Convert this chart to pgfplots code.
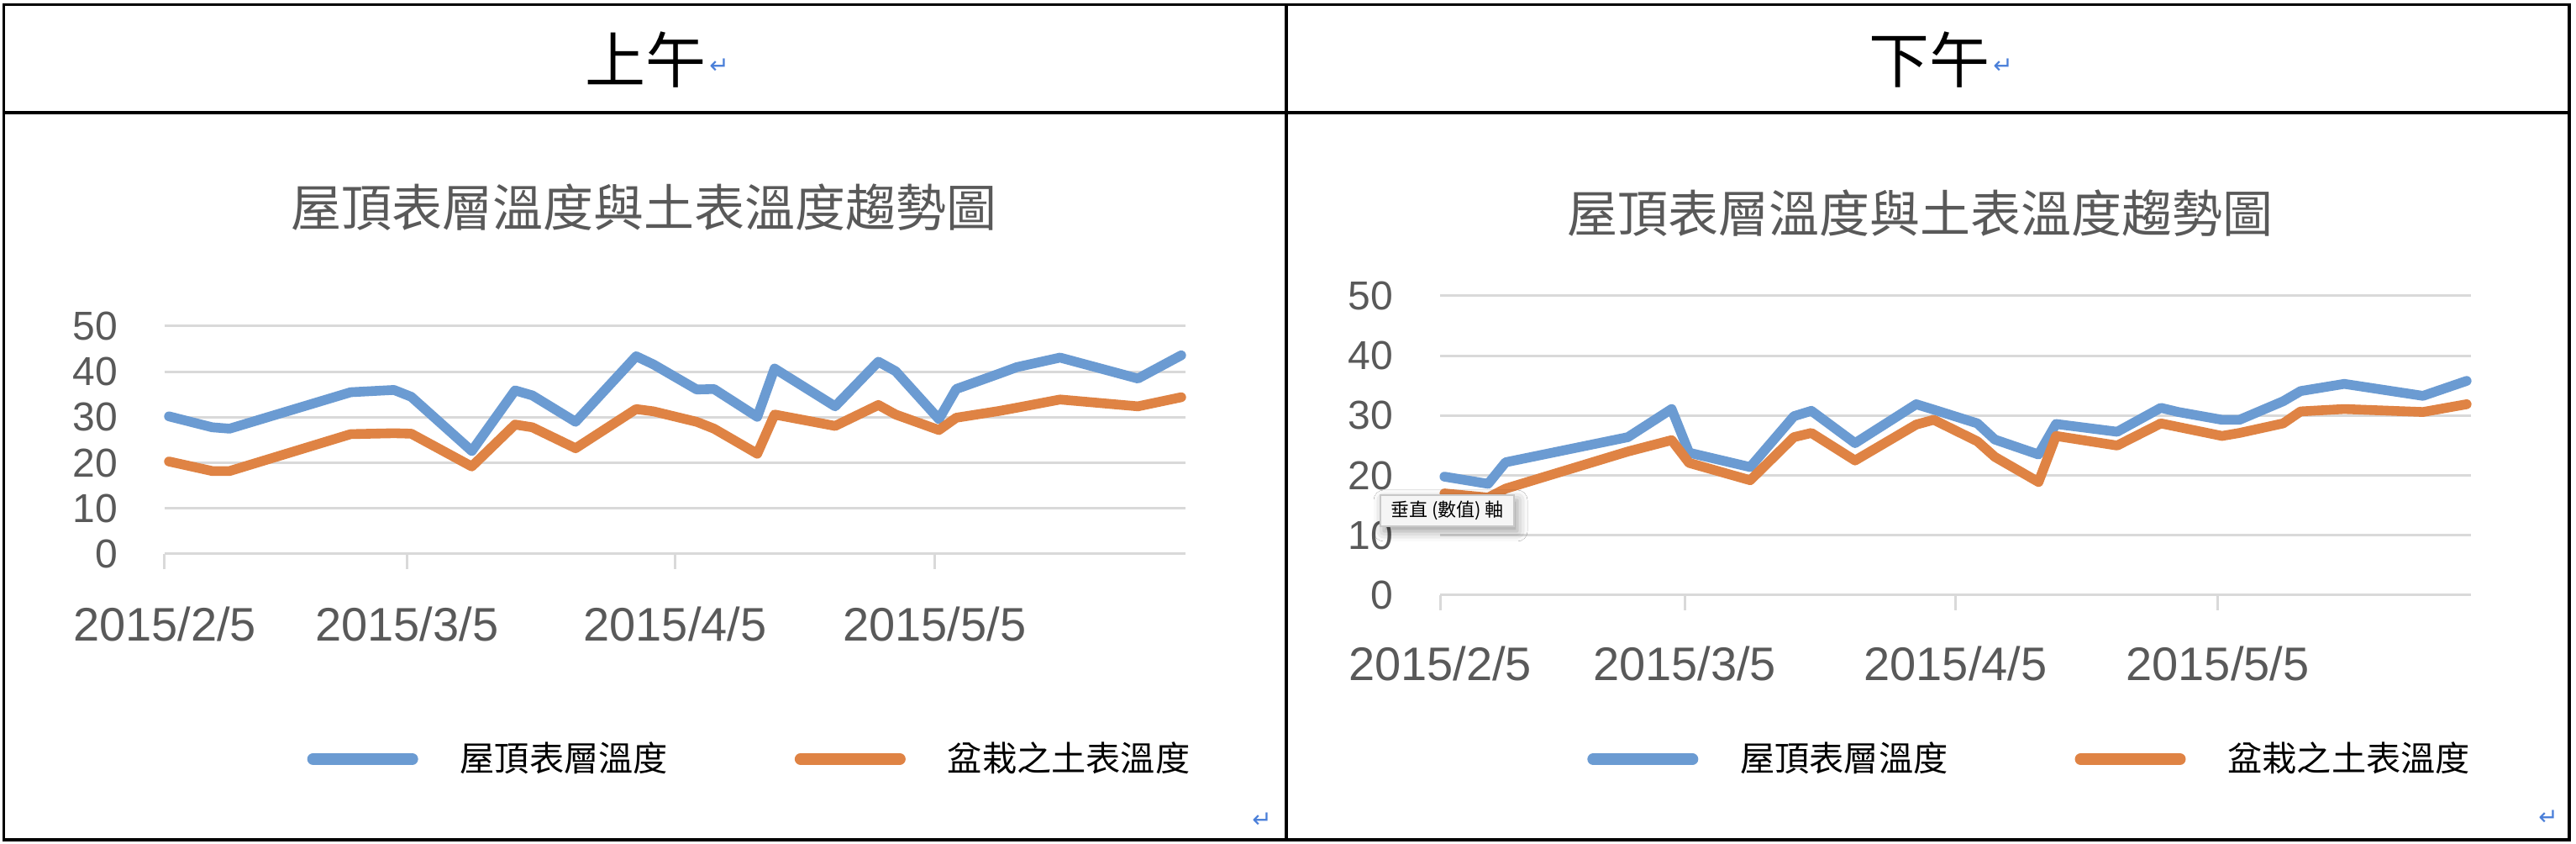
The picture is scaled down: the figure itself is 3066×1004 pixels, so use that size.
\documentclass[border=0pt]{standalone}
\usepackage{pgfplots}
\usepackage{pgfplotstable}
\pgfplotsset{compat=1.18}
\usepackage{fontspec}
\setmainfont{Liberation Sans}
\newfontfamily\cjk{Noto Sans CJK TC}
\newfontfamily\dejavu{DejaVu Sans}
\usetikzlibrary{shadows.blur}
\definecolor{sblue}{HTML}{6B9BD2}
\definecolor{sorange}{HTML}{DF8344}
\definecolor{gridc}{HTML}{D9D9D9}
\definecolor{labc}{HTML}{595959}
\definecolor{retc}{HTML}{4A7FD9}

\pgfplotstableread{
x blue orange
0.5 30.2 20.3
5.5 27.8 18.2
7.5 27.5 18.2
21.5 35.5 26.3
26.5 36.0 26.5
28.5 34.5 26.4
35.5 22.6 19.2
40.5 35.9 28.4
42.5 34.8 27.8
47.5 29.0 23.2
54.5 43.4 31.8
56.5 41.6 31.3
61.5 36.1 29.0
63.5 36.2 27.5
68.5 30.1 22.0
70.5 40.7 30.6
77.5 32.4 28.1
82.5 42.2 32.7
84.5 40.1 30.6
89.5 29.6 27.2
91.5 36.2 29.9
96.5 39.6 31.4
98.5 41.0 32.1
103.5 43.1 33.9
112.5 38.5 32.4
117.5 43.6 34.4
}\amdata

\pgfplotstableread{
x blue orange
0.5 19.8 17.0
5.5 18.6 16.3
7.5 22.2 17.8
21.5 26.4 24.0
26.5 31.1 25.9
28.5 23.8 22.1
35.5 21.4 19.2
40.5 29.9 26.4
42.5 30.8 27.1
47.5 25.4 22.5
54.5 31.9 28.5
56.5 31.0 29.3
61.5 28.7 25.7
63.5 26.0 23.1
68.5 23.5 18.9
70.5 28.6 26.6
77.5 27.3 25.0
82.5 31.3 28.7
84.5 30.6 28.1
89.5 29.3 26.6
91.5 29.3 27.1
96.5 32.4 28.7
98.5 34.1 30.7
103.5 35.3 31.1
112.5 33.3 30.6
117.5 35.8 31.9
}\pmdata

\pgfplotsset{
  chartstyle/.style={
    scale only axis,
    clip=false,
    xmin=0, xmax=118, ymin=0, ymax=50,
    xtick={0,28,59,89},
    xticklabels={2015/2/5,2015/3/5,2015/4/5,2015/5/5},
    ytick={0,10,20,30,40,50},
    /pgf/number format/assume math mode=true,
    axis line style={draw=none},
    ymajorgrids,
    major grid style={draw=gridc, line width=0.75pt},
    xtick pos=bottom, ytick pos=left,
    tick align=outside,
    major tick length=4.5pt,
    x tick style={draw=gridc, line width=0.75pt},
    y tick style={draw=none},
    xticklabel style={font=\fontsize{14pt}{14pt}\selectfont, text=labc, anchor=base, inner sep=0pt, yshift=-21.5pt},
    yticklabel style={font=\fontsize{12pt}{12pt}\selectfont, text=labc, anchor=east, inner sep=0pt, xshift=-9.25pt},
    legend columns=2,
    legend style={draw=none, fill=none, font=\cjk\fontsize{10.3pt}{10.3pt}\selectfont, text=black,
      nodes={inner sep=0pt}, anchor=center,
      /tikz/every odd column/.append style={column sep=12.5pt},
      /tikz/every even column/.append style={column sep=37.75pt}},
    legend image code/.code={\draw[##1, line width=3.5pt, line cap=round] (0pt,0pt) -- (29.5pt,0pt);},
  },
  blueline/.style={sblue, line width=2.9pt, line join=round, line cap=round},
  orangeline/.style={sorange, line width=2.9pt, line join=round, line cap=round},
}

\begin{document}
\begin{tikzpicture}[x=0.25pt,y=0.25pt]
\useasboundingbox (0,0) rectangle (3066,1004);
\fill[white] (0,0) rectangle (3066,1004);

% left chart (morning)
\begin{axis}[chartstyle, at={(49pt,86.25pt)}, anchor=south west,
  width=303.75pt, height=67.75pt,
  legend style={at={(0.572,-0.900)}}]
\addplot[blueline] table[x=x,y=blue]{\amdata};
\addlegendentry{屋頂表層溫度}
\addplot[orangeline] table[x=x,y=orange]{\amdata};
\addlegendentry{盆栽之土表溫度}
\end{axis}

% right chart (afternoon)
\begin{axis}[chartstyle, at={(428.5pt,74pt)}, anchor=south west,
  width=306.75pt, height=89pt,
  xticklabel style={yshift=0.5pt},
  legend style={at={(0.571,-0.548)}}]
\addplot[blueline] table[x=x,y=blue]{\pmdata};
\addlegendentry{屋頂表層溫度}
\addplot[orangeline] table[x=x,y=orange]{\pmdata};
\addlegendentry{盆栽之土表溫度}
\end{axis}

% titles
\node[font=\cjk\fontsize{15pt}{15pt}\selectfont, text=labc] at (766,757) {屋頂表層溫度與土表溫度趨勢圖};
\node[font=\cjk\fontsize{15pt}{15pt}\selectfont, text=labc] at (2285,750) {屋頂表層溫度與土表溫度趨勢圖};

% table borders
\draw[line width=0.8pt] (4.5,998.5) rectangle (3058,5);
\draw[line width=0.8pt] (4.5,870) -- (3058,870);
\draw[line width=0.8pt] (1531,998.5) -- (1531,5);

% header texts
\node[font=\cjk\fontsize{18pt}{18pt}\selectfont] at (768,932.5) {上午};
\node[font=\cjk\fontsize{18pt}{18pt}\selectfont] at (2296,932.5) {下午};
\node[font=\dejavu\fontsize{7pt}{7pt}\selectfont, text=retc, inner sep=0pt] at (856,925.5) {↵};
\node[font=\dejavu\fontsize{7pt}{7pt}\selectfont, text=retc, inner sep=0pt] at (2384,925.5) {↵};
\node[font=\dejavu\fontsize{7pt}{7pt}\selectfont, text=retc, inner sep=0pt] at (1502,28) {↵};
\node[font=\dejavu\fontsize{7pt}{7pt}\selectfont, text=retc, inner sep=0pt] at (3033,31.5) {↵};

% tooltip
\node[draw={rgb,255:red,200;green,200;blue,200}, fill={rgb,255:red,245;green,245;blue,245},
  minimum width=39.75pt, minimum height=9.25pt, inner sep=0pt,
  blur shadow={shadow xshift=1pt, shadow yshift=-1.5pt, shadow blur radius=3pt},
  font=\cjk\fontsize{5.5pt}{5.5pt}\selectfont] at (1722.5,396.5) {垂直 (數值) 軸};
\end{tikzpicture}
\end{document}
